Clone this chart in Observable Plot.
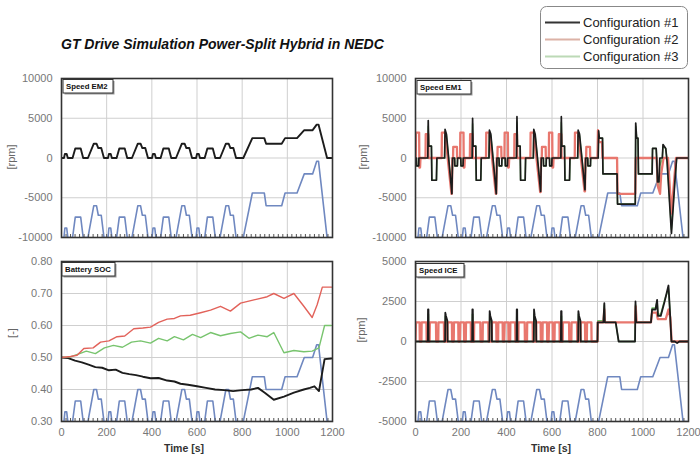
<!DOCTYPE html>
<html><head><meta charset="utf-8">
<script src="https://cdn.jsdelivr.net/npm/d3@7"></script>
<script src="https://cdn.jsdelivr.net/npm/@observablehq/plot@0.6"></script>
<style>
body{margin:0;background:#fff;font-family:"Liberation Sans",Arial,sans-serif;}
#wrap{position:relative;width:700px;height:462px;overflow:hidden;background:#fff}
</style></head><body><div id="wrap"></div>
<script>
// ---------- tick labels ----------
const xTicks = [0, 200, 400, 600, 800, 1000, 1200];
const rpmTicks10k = [-10000, -5000, 0, 5000, 10000];
const rpmTicks5k = [-5000, -2500, 0, 2500, 5000];
const socTicks = [0.3, 0.4, 0.5, 0.6, 0.7, 0.8];
const minorTicks = d3.range(0, 1201, 20);
const legendLabels = ["Configuration #1", "Configuration #2", "Configuration #3"];
const panelTitles = ["Speed EM2", "Speed EM1", "Battery SOC", "Speed ICE"];

// ---------- NEDC vehicle speed (km/h), hidden secondary axis 0..250 km/h ----------
const speedAxisMax = 250;
const nedcT = [0,11,15,23,28,49,61,85,96,117,143,155,163,176,188,
 195,206,210,218,223,244,256,280,291,312,338,350,358,371,383,
 390,401,405,413,418,439,451,475,486,507,533,545,553,566,578,
 585,596,600,608,613,634,646,670,681,702,728,740,748,761,773,
 805,845,898,906,975,990,1043,1075,1112,1130,1138,1176,1195];
const nedcSpeed = [0,0,15,15,0,0,32,32,0,0,50,50,35,35,0,
 0,0,15,15,0,0,32,32,0,0,50,50,35,35,0,
 0,0,15,15,0,0,32,32,0,0,50,50,35,35,0,
 0,0,15,15,0,0,32,32,0,0,50,50,35,35,0,
 0,70,70,50,50,70,70,100,100,120,120,0,0];

// ---------- Speed EM2 [rpm] (same times as NEDC) ----------
const em2Conf1 = [0,0,500,500,0,0,1200,1200,0,0,1800,1800,1250,1250,0,
 0,0,500,500,0,0,1200,1200,0,0,1800,1800,1250,1250,0,
 0,0,500,500,0,0,1200,1200,0,0,1800,1800,1250,1250,0,
 0,0,500,500,0,0,1200,1200,0,0,1800,1800,1250,1250,0,
 0,2500,2500,1800,1800,2500,2500,3500,3500,4200,4200,0,0];

// ---------- Speed EM1 [rpm] ----------
const em1T13 = [0,4,5,14,15,54,56,58,70,72,92,94,128,130,136,160,163,172,173,184,185,
 195,199,200,209,210,249,251,253,265,267,287,289,323,325,331,355,358,367,368,379,380,
 390,394,395,404,405,444,446,448,460,462,482,484,518,520,526,550,553,562,563,574,575,
 585,589,590,599,600,639,641,643,655,657,677,679,713,715,721,745,748,757,758,769,770,
 803,805,808,822,824,886,888,966,968,972,978,980,1040,1042,1058,1060,1064,1070,1074,1085,1088,1100,1106,1125,1140,1148,1198];
const em1Conf1 = [0,0,-1000,-1000,0,0,4700,1500,1500,-2800,-2800,0,0,3600,3000,-4500,0,0,-1000,-1000,0,
 0,0,-1000,-1000,0,0,5000,1500,1500,-2800,-2800,0,0,3500,3000,-4500,0,0,-1000,-1000,0,
 0,0,-1000,-1000,0,0,5200,1500,1500,-2800,-2800,0,0,3600,3000,-4200,0,0,-1000,-1000,0,
 0,0,-1000,-1000,0,0,5200,1500,1500,-2800,-2800,0,0,3500,3000,-4000,0,0,-1000,-1000,0,
 0,3400,2500,2500,-2000,-2000,-5800,-5800,4400,2500,2500,-2000,-2000,1200,1200,0,-3000,-3000,0,0,1700,1200,-500,-9500,-3000,0,0];
const em1Conf3 = [0,0,-1000,-1000,0,0,4000,1500,1500,-2800,-2800,0,0,3300,2800,-4300,0,0,-1000,-1000,0,
 0,0,-1000,-1000,0,0,4300,1500,1500,-2800,-2800,0,0,3200,2800,-4300,0,0,-1000,-1000,0,
 0,0,-1000,-1000,0,0,4500,1500,1500,-2800,-2800,0,0,3300,2800,-4000,0,0,-1000,-1000,0,
 0,0,-1000,-1000,0,0,4500,1500,1500,-2800,-2800,0,0,3200,2800,-3800,0,0,-1000,-1000,0,
 0,3000,2500,2500,-2000,-2000,-5800,-5800,4000,2500,2500,-2000,-2000,1200,1200,0,-3500,-4000,-1000,0,1500,1200,-400,-9000,-2800,0,0];
const em1T2 = [0,1,2,16,17,20,22,44,45,56,57,115,116,130,131,158,160,162,165,166,182,183,
 195,196,197,211,212,215,217,239,240,251,252,310,311,325,326,353,355,357,360,361,377,378,
 390,391,392,406,407,410,412,434,435,446,447,505,506,520,521,548,550,552,555,556,572,573,
 585,586,587,601,602,605,607,629,630,641,642,700,701,715,716,743,745,747,750,751,767,768,
 800,802,806,820,822,886,888,966,968,1060,1065,1075,1080,1090,1110,1125,1145,1198];
const em1Conf2 = [0,0,3200,3200,-1200,-1200,0,0,3000,3000,0,0,3200,3200,2800,-4500,-4500,0,0,1400,1400,0,
 0,0,3200,3200,-1200,-1200,0,0,3000,3000,0,0,3200,3200,2800,-4500,-4500,0,0,1400,1400,0,
 0,0,3200,3200,-1200,-1200,0,0,3000,3000,0,0,3200,3200,2800,-4300,-4300,0,0,1400,1400,0,
 0,0,3200,3200,-1200,-1200,0,0,3000,3000,0,0,3200,3200,2800,-4200,-4200,0,0,1400,1400,0,
 0,3500,2000,2000,0,0,-4500,-4500,0,0,-3500,-4500,-2000,0,0,-7000,0,0];

// ---------- Battery SOC [-] ----------
const socT1 = [0,30,60,90,120,150,180,210,240,270,300,330,360,394,430,468,500,527,560,600,640,680,720,760,800,840,870,900,940,985,1029,1073,1100,1120,1140,1165,1195];
const socConf1 = [0.500,0.498,0.490,0.485,0.478,0.470,0.468,0.460,0.462,0.452,0.448,0.445,0.440,0.435,0.436,0.428,0.425,0.418,0.415,0.410,0.405,0.400,0.398,0.395,0.398,0.400,0.405,0.390,0.368,0.378,0.390,0.400,0.405,0.410,0.395,0.495,0.497];
const socT2 = [0,40,69,99,140,173,210,246,280,320,360,394,430,468,500,527,570,616,660,704,748,793,852,911,940,985,1029,1073,1110,1132,1155,1195];
const socConf2 = [0.500,0.503,0.507,0.528,0.530,0.548,0.552,0.565,0.567,0.590,0.592,0.595,0.610,0.620,0.622,0.630,0.632,0.640,0.648,0.660,0.645,0.670,0.680,0.690,0.700,0.685,0.700,0.660,0.625,0.665,0.720,0.720];
const socT3 = [0,40,80,110,150,190,230,270,310,350,394,430,468,500,540,580,616,660,704,748,793,830,870,911,940,985,1029,1073,1110,1140,1165,1195];
const socConf3 = [0.500,0.502,0.512,0.520,0.512,0.530,0.538,0.532,0.548,0.552,0.545,0.560,0.552,0.565,0.555,0.572,0.562,0.578,0.568,0.575,0.580,0.560,0.570,0.565,0.578,0.515,0.522,0.518,0.520,0.530,0.600,0.600];

// ---------- Speed ICE [rpm] ----------
const iceT13 = [0,54,55,57,58,130,131,134,140,141,
 195,249,250,252,253,325,326,329,335,336,
 390,444,445,447,448,520,521,524,530,531,
 585,639,640,642,643,715,716,719,725,726,
 800,801,826,830,832,880,893,965,967,970,1035,1040,1055,1062,1066,1078,1095,1112,1118,1125,1140,1150,1160,1198];
const iceConf1 = [0,0,2000,2000,0,0,1800,1600,1300,0,
 0,0,2000,2000,0,0,1900,1600,1300,0,
 0,0,2000,2000,0,0,2000,1600,1300,0,
 0,0,1900,1900,0,0,1900,1600,1300,0,
 0,1200,1200,2400,1200,1200,0,0,2500,1200,1200,2000,2000,2600,1600,1600,2500,3500,2000,0,0,-100,0,0];
const iceConf3 = [0,0,1700,1700,0,0,1600,1400,1100,0,
 0,0,1700,1700,0,0,1700,1400,1100,0,
 0,0,1700,1700,0,0,1700,1400,1100,0,
 0,0,1600,1600,0,0,1700,1400,1100,0,
 0,1300,1300,2300,1200,1200,0,0,2300,1200,1200,2100,2100,2500,1700,1700,2600,3300,2000,0,0,0,0,0];
const iceT2 = [0,2,18,19,26,27,48,49,62,63,90,91,100,101,125,126,140,141,160,161,168,169,188,189,
 195,197,213,214,221,222,243,244,257,258,285,286,295,296,320,321,335,336,355,356,363,364,383,384,
 390,392,408,409,416,417,438,439,452,453,480,481,490,491,515,516,530,531,550,551,558,559,578,579,
 585,587,603,604,611,612,633,634,647,648,675,676,685,686,710,711,725,726,745,746,753,754,773,774,
 800,801,826,830,832,900,965,968,972,1035,1040,1060,1065,1100,1112,1120,1126,1198];
const iceConf2 = [0,1200,1200,0,0,1200,1200,0,0,1200,1200,0,0,1200,1200,0,0,1200,1200,0,0,1200,1200,0,
 0,1200,1200,0,0,1200,1200,0,0,1200,1200,0,0,1200,1200,0,0,1200,1200,0,0,1200,1200,0,
 0,1200,1200,0,0,1200,1200,0,0,1200,1200,0,0,1200,1200,0,0,1200,1200,0,0,1200,1200,0,
 0,1200,1200,0,0,1200,1200,0,0,1200,1200,0,0,1200,1200,0,0,1200,1200,0,0,1200,1200,0,
 0,1200,1200,2000,1200,1200,1200,2200,1200,1200,1800,1800,1400,1400,2000,1500,0,0];

// ---------- styling ----------
const C1 = "#1c1c1c", C2 = "#e2625a", C2b = "#e8776e", C3 = "#78c46e", CB = "#6f88c0";
const legendColors = ["#333333", "#dcb2a6", "#bcd9b6"];

const pts = (T, V) => T.map((t, i) => ({t, v: V[i]}));
const speedPts = (dom) => nedcT.map((t, i) => ({t, v: dom[0] + nedcSpeed[i] / speedAxisMax * (dom[1] - dom[0])}));

const W = document.getElementById("wrap");
function addPanel({x0, x1, y0, y1, yDomain, yTicks, yFmt, showX, lines}) {
  const ml = 56, mr = 10, mt = 6, mb = showX ? 26 : 4;
  const pw = x1 - x0, ph = y1 - y0;
  const marks = [
    Plot.gridX(xTicks, {stroke: "#cfcfcf", strokeOpacity: 1}),
    Plot.gridY(yTicks, {stroke: "#cfcfcf", strokeOpacity: 1}),
    Plot.axisY(yTicks, {tickSize: 0, tickPadding: 9, tickFormat: yFmt, fill: "#777", label: null}),
    Plot.line(speedPts(yDomain), {x: "t", y: "v", stroke: CB, strokeWidth: 1.6, clip: true}),
    ...lines.map(l => Plot.line(l.data, {x: "t", y: "v", stroke: l.color, strokeWidth: l.w, clip: true})),
    Plot.tickX(minorTicks, {x: d => d, insetTop: ph - 3, stroke: "#555"}),
    Plot.frame({stroke: "#333", strokeWidth: 1.6})
  ];
  if (showX) marks.push(Plot.axisX(xTicks, {tickSize: 0, tickPadding: 7, tickFormat: d => String(d), fill: "#777", label: null}));
  const svg = Plot.plot({
    width: pw + ml + mr, height: ph + mt + mb,
    marginLeft: ml, marginRight: mr, marginTop: mt, marginBottom: mb,
    style: {background: "transparent", fontFamily: "'Liberation Sans', Arial, sans-serif", fontSize: "11px", overflow: "visible"},
    x: {domain: [0, 1200], axis: null},
    y: {domain: yDomain, axis: null},
    marks
  });
  svg.style.position = "absolute";
  svg.style.left = (x0 - ml) + "px";
  svg.style.top = (y0 - mt) + "px";
  W.appendChild(svg);
}

const fmtInt = d => String(d);
const fmtSoc = d => d.toFixed(2);

addPanel({x0: 61, x1: 332, y0: 78, y1: 237, yDomain: [-10000, 10000], yTicks: rpmTicks10k, yFmt: fmtInt, showX: false,
  lines: [{data: pts(nedcT, em2Conf1), color: C1, w: 1.9}]});
addPanel({x0: 415, x1: 688, y0: 78, y1: 237, yDomain: [-10000, 10000], yTicks: rpmTicks10k, yFmt: fmtInt, showX: false,
  lines: [{data: pts(em1T13, em1Conf3), color: C3, w: 1.5},
          {data: pts(em1T2, em1Conf2), color: C2b, w: 2.3},
          {data: pts(em1T13, em1Conf1), color: C1, w: 1.7}]});
addPanel({x0: 61, x1: 332, y0: 261, y1: 421, yDomain: [0.3, 0.8], yTicks: socTicks, yFmt: fmtSoc, showX: true,
  lines: [{data: pts(socT1, socConf1), color: C1, w: 1.9},
          {data: pts(socT3, socConf3), color: C3, w: 1.4},
          {data: pts(socT2, socConf2), color: C2, w: 1.4}]});
addPanel({x0: 415, x1: 688, y0: 261, y1: 421, yDomain: [-5000, 5000], yTicks: rpmTicks5k, yFmt: fmtInt, showX: true,
  lines: [{data: pts(iceT13, iceConf3), color: C3, w: 1.5},
          {data: pts(iceT2, iceConf2), color: C2b, w: 2.3},
          {data: pts(iceT13, iceConf1), color: C1, w: 1.8}]});

// ---------- overlay: title, legend, panel labels, axis labels ----------
const ov = d3.create("svg").attr("width", 700).attr("height", 462)
  .style("position", "absolute").style("left", "0px").style("top", "0px")
  .style("font-family", "'Liberation Sans', Arial, sans-serif");
ov.append("text").attr("x", 61).attr("y", 48.5).attr("font-size", 14).attr("font-weight", "bold")
  .attr("font-style", "italic").attr("fill", "#111").text("GT Drive Simulation Power-Split Hybrid in NEDC");

ov.append("rect").attr("x", 540.5).attr("y", 6.5).attr("width", 147).attr("height", 62).attr("rx", 6)
  .attr("fill", "#fff").attr("stroke", "#888").attr("stroke-width", 1);
legendLabels.forEach((lab, i) => {
  const y = 22.5 + i * 17;
  ov.append("line").attr("x1", 545).attr("x2", 580).attr("y1", y).attr("y2", y)
    .attr("stroke", legendColors[i]).attr("stroke-width", 2);
  ov.append("text").attr("x", 583).attr("y", y + 4.5).attr("font-size", 13).attr("fill", "#222").text(lab);
});

const boxes = [[63, 79.5, 50], [417, 80.5, 54], [62, 262.5, 53], [416, 263.5, 48]];
panelTitles.forEach((t, i) => {
  const [bx, by, bw] = boxes[i];
  ov.append("rect").attr("x", bx + 1.5).attr("y", by + 1.5).attr("width", bw).attr("height", 13.5).attr("fill", "#999");
  ov.append("rect").attr("x", bx).attr("y", by).attr("width", bw).attr("height", 13.5)
    .attr("fill", "#fff").attr("stroke", "#333").attr("stroke-width", 1);
  ov.append("text").attr("x", bx + 3).attr("y", by + 9.8).attr("font-size", 7.8).attr("font-weight", "bold")
    .attr("fill", "#111").text(t);
});

const yLabels = [["[rpm]", 11, 157], ["[rpm]", 363, 157], ["[-]", 12, 333], ["[rpm]", 361, 330]];
yLabels.forEach(([t, x, y]) => {
  ov.append("text").attr("transform", `translate(${x},${y}) rotate(-90)`).attr("text-anchor", "middle")
    .attr("dy", "0.35em").attr("font-size", 11).attr("fill", "#666").text(t);
});
[[184, 452], [551, 452]].forEach(([x, y]) => {
  ov.append("text").attr("x", x).attr("y", y).attr("text-anchor", "middle").attr("font-size", 10.5)
    .attr("font-weight", "bold").attr("fill", "#333").text("Time [s]");
});
W.appendChild(ov.node());
</script></body></html>
